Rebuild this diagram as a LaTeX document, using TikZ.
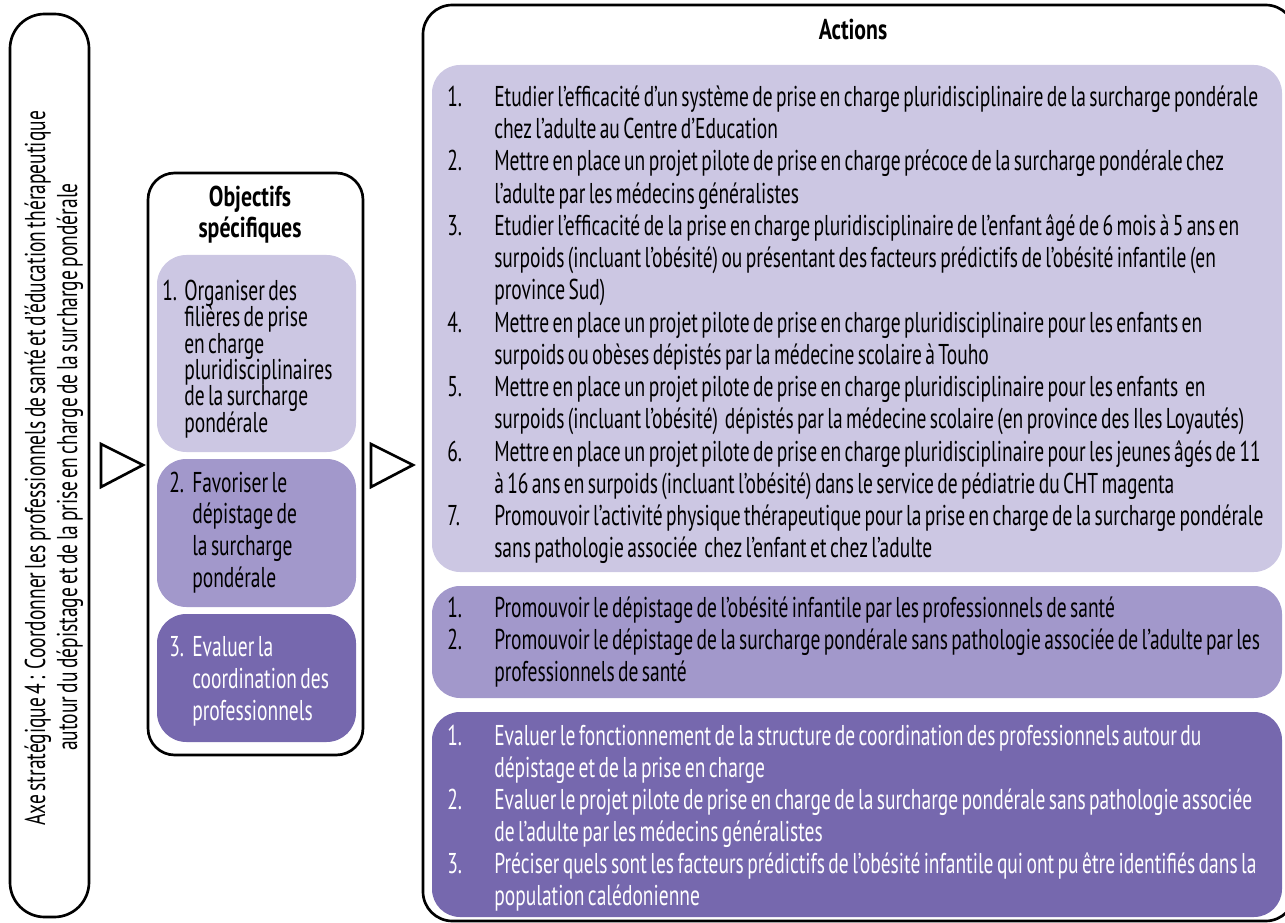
\documentclass[tikz,border=0pt]{standalone}
\usepackage{fontspec}
\setmainfont{PT Sans}[FakeStretch=0.68, WordSpace=0.65]
\newfontfamily\ttlfont{PT Sans}[FakeStretch=0.76, WordSpace=0.6]
\definecolor{pLight}{RGB}{204,199,227}
\definecolor{pMid}{RGB}{162,152,203}
\definecolor{pDark}{RGB}{118,104,174}
\newcommand\li[3]{\makebox[#1][l]{#2}#3}
\newcommand\fs{\fontsize{21.5}{24.2}\selectfont}
\begin{document}
\begin{tikzpicture}[x=0.75pt,y=-0.75pt,
  frame/.style={draw=black, line width=2pt},
  tri/.style={draw=black, line width=2pt, line join=miter},
  lst/.style={anchor=north west, inner sep=0pt, text width=700pt, align=flush left, font=\fs},
  ttl/.style={anchor=base, inner sep=0pt, font=\fs\ttlfont\bfseries},
  axe/.style={rotate=90, anchor=base, inner sep=0pt, font=\fs}]
\useasboundingbox (0,0) rectangle (1285,923);
\clip (0,0) rectangle (1285,923);

% left axis box
\draw[frame, rounded corners=26pt] (10,14) rectangle (89,917);
\node[axe] (axeA) at (45,468) {Axe stratégique 4 :\ \ Coordonner les professionnels de santé et d’éducation thérapeutique};
\node[axe] (axeB) at (77,467) {autour du dépistage et de la prise en charge de la surcharge pondérale};

% triangles
\coordinate (t1a) at (101,444); \coordinate (t1b) at (101,487); \coordinate (t1c) at (143,465);
\draw[tri] (t1a) -- (t1b) -- (t1c) -- cycle;
\coordinate (t2a) at (371,444); \coordinate (t2b) at (371,487); \coordinate (t2c) at (413,465);
\draw[tri] (t2a) -- (t2b) -- (t2c) -- cycle;

% objectives
\draw[frame, rounded corners=20pt] (148,173) rectangle (363,755);
\node[ttl] (objA) at (250,207) {Objectifs};
\node[ttl] (objB) at (250,238) {spécifiques};
\fill[pLight, rounded corners=22pt] (157,255) rectangle (356,452);
\fill[pMid, rounded corners=22pt] (157,459) rectangle (356,607);
\fill[pDark, rounded corners=22pt] (157,614) rectangle (356,742);

\node[lst, font={\fontsize{21.5}{19.8}\selectfont\lineskiplimit=-100pt}] (o1) at (162,273.33) {\noindent\rule{0pt}{20pt}\li{16.5pt}{1.}{Organiser des}\\
\li{16.5pt}{}{filières de prise}\\
\li{16.5pt}{}{en charge}\\
\li{16.5pt}{}{pluridisciplinaires}\\
\li{16.5pt}{}{de la surcharge}\\
\li{16.5pt}{}{pondérale}};
\node[lst, font={\fontsize{21.5}{23.8}\selectfont}] (o2) at (169,465.33) {\noindent\rule{0pt}{20pt}\li{17.25pt}{2.}{Favoriser le}\\
\li{17.25pt}{}{dépistage de}\\
\li{17.25pt}{}{la surcharge}\\
\li{17.25pt}{}{pondérale}};
\node[lst, text=white, font={\fontsize{21.5}{24}\selectfont}] (o3) at (169,629.33) {\noindent\rule{0pt}{20pt}\li{17.25pt}{3.}{Evaluer la}\\
\li{17.25pt}{}{coordination des}\\
\li{17.25pt}{}{professionnels}};

% actions
\draw[frame, rounded corners=22pt] (423,5) rectangle (1295,921);
\node[ttl] (act) at (853,40) {Actions};
\fill[pLight, rounded corners=21pt] (432,65) rectangle (1282,572);
\fill[pMid, rounded corners=21pt] (432,586) rectangle (1282,698);
\fill[pDark, rounded corners=21pt] (432,712) rectangle (1282,917);

\node[lst] (a1) at (447,79.33) {\noindent\rule{0pt}{20pt}\li{35.25pt}{1.}{Etudier l’efficacité d’un système de prise en charge pluridisciplinaire de la surcharge pondérale}\\
\li{35.25pt}{}{chez l’adulte au Centre d’Education}\\
\li{35.25pt}{2.}{Mettre en place un projet pilote de prise en charge précoce de la surcharge pondérale chez}\\
\li{35.25pt}{}{l’adulte par les médecins généralistes}\\
\li{35.25pt}{3.}{Etudier l’efficacité de la prise en charge pluridisciplinaire de l’enfant âgé de 6 mois à 5 ans en}\\
\li{35.25pt}{}{surpoids (incluant l’obésité) ou présentant des facteurs prédictifs de l’obésité infantile (en}\\
\li{35.25pt}{}{province Sud)}\\
\li{35.25pt}{4.}{Mettre en place un projet pilote de prise en charge pluridisciplinaire pour les enfants en}\\
\li{35.25pt}{}{surpoids ou obèses dépistés par la médecine scolaire à Touho}\\
\li{35.25pt}{5.}{Mettre en place un projet pilote de prise en charge pluridisciplinaire pour les enfants\ \ en}\\
\li{35.25pt}{}{surpoids (incluant l’obésité)\ \ dépistés par la médecine scolaire (en province des Iles Loyautés)}\\
\li{35.25pt}{6.}{Mettre en place un projet pilote de prise en charge pluridisciplinaire pour les jeunes âgés de 11}\\
\li{35.25pt}{}{à 16 ans en surpoids (incluant l’obésité) dans le service de pédiatrie du CHT magenta}\\
\li{35.25pt}{7.}{Promouvoir l’activité physique thérapeutique pour la prise en charge de la surcharge pondérale}\\
\li{35.25pt}{}{sans pathologie associée\ \ chez l’enfant et chez l’adulte}};

\node[lst] (a2) at (447,590.33) {\noindent\rule{0pt}{20pt}\li{35.25pt}{1.}{Promouvoir le dépistage de l’obésité infantile par les professionnels de santé}\\
\li{35.25pt}{2.}{Promouvoir le dépistage de la surcharge pondérale sans pathologie associée de l’adulte par les}\\
\li{35.25pt}{}{professionnels de santé}};

\node[lst, text=white, font={\fontsize{21.5}{24}\selectfont}] (a3) at (447,718.33) {\noindent\rule{0pt}{20pt}\li{35.25pt}{1.}{Evaluer le fonctionnement de la structure de coordination des professionnels autour du}\\
\li{35.25pt}{}{dépistage et de la prise en charge}\\
\li{35.25pt}{2.}{Evaluer le projet pilote de prise en charge de la surcharge pondérale sans pathologie associée}\\
\li{35.25pt}{}{de l’adulte par les médecins généralistes}\\
\li{35.25pt}{3.}{Préciser quels sont les facteurs prédictifs de l’obésité infantile qui ont pu être identifiés dans la}\\
\li{35.25pt}{}{population calédonienne}};
\end{tikzpicture}
\end{document}
